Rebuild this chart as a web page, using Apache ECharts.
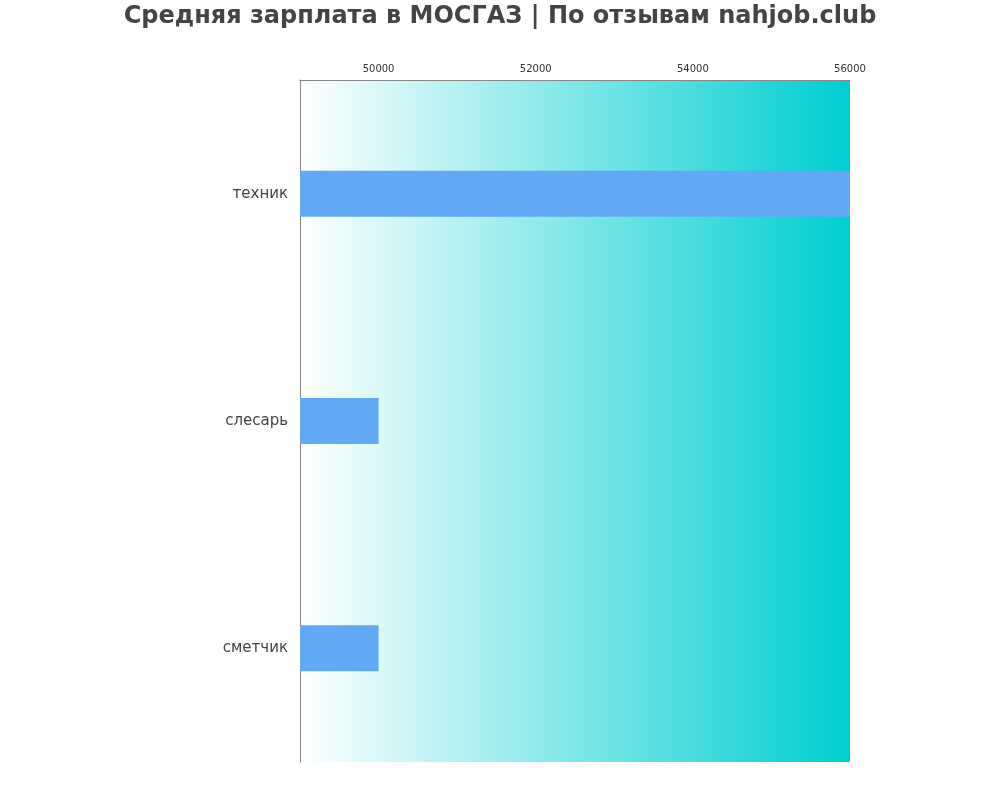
<!DOCTYPE html>
<html><head><meta charset="utf-8">
<script src="https://cdn.jsdelivr.net/npm/echarts@6/dist/echarts.min.js"></script>
<style>html,body{margin:0;padding:0}#c{width:1000px;height:800px}</style></head>
<body><div id="c"></div>
<script>
const categories = ['техник', 'слесарь', 'сметчик'];
const salaries = [56000, 50000, 50000];
const chart = echarts.init(document.getElementById('c'));
chart.setOption({
  backgroundColor: '#fff',
  title: { text: 'Средняя зарплата в МОСГАЗ | По отзывам nahjob.club', left: 'center', top: 0,
    textStyle: { fontFamily: 'DejaVu Sans', fontSize: 24, fontWeight: 'bold', color: '#444' } },
  grid: { left: 300, right: 150, top: 80, bottom: 38, show: true, borderWidth: 0,
    backgroundColor: new echarts.graphic.LinearGradient(0, 0, 1, 0, [
      { offset: 0, color: '#ffffff' }, { offset: 1, color: '#00ced1' }]) },
  xAxis: { type: 'value', position: 'top', min: 49000, max: 56000, interval: 1000,
    axisLine: { show: true, lineStyle: { color: '#888' } }, axisTick: { show: false },
    splitLine: { show: false },
    axisLabel: { fontFamily: 'DejaVu Sans', fontSize: 10, color: '#333', margin: 6,
      formatter: v => (v % 2000 === 0 ? String(v) : '') } },
  yAxis: { type: 'category', data: categories, inverse: true,
    axisLine: { show: true, lineStyle: { color: '#888' } }, axisTick: { show: false },
    axisLabel: { fontFamily: 'DejaVu Sans', fontSize: 15, color: '#444', margin: 12, padding: [0, 0, 4, 0] } },
  series: [{ type: 'bar', data: salaries, barWidth: 46, itemStyle: { color: '#62a8f5' } }]
});
</script></body></html>
